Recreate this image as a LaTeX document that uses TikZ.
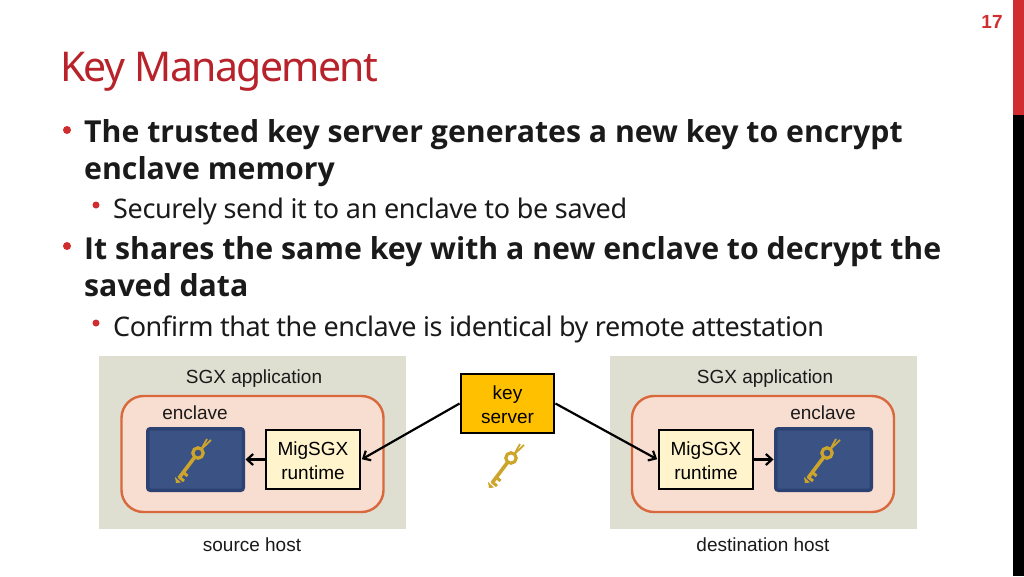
\documentclass[tikz,border=0pt]{standalone}
\usepackage{fontspec}
\setmainfont{Noto Sans}[LetterSpace=-1.35]
\newfontfamily\tightf{Noto Sans}[LetterSpace=-1.8]
\newfontfamily\headf{Open Sans}
\newfontfamily\titlef{Noto Sans}[LetterSpace=-4]
\newfontfamily\diag{Liberation Sans}
\usetikzlibrary{arrows.meta}
\definecolor{redt}{HTML}{B8222A}
\definecolor{barred}{HTML}{D12C2F}
\definecolor{panel}{HTML}{DEDED1}
\definecolor{pinkf}{HTML}{F8DDD1}
\definecolor{pinkb}{HTML}{D9693C}
\definecolor{bluef}{HTML}{3B5285}
\definecolor{blueb}{HTML}{2C4272}
\definecolor{cream}{HTML}{FFF4CC}
\definecolor{amber}{HTML}{FFC000}
\definecolor{gold}{HTML}{CDA52B}
\definecolor{bodyt}{HTML}{1A1A1A}
\newcommand{\dropline}{\rule{0pt}{15.8pt}}
\tikzset{
  x=1pt,y=-1pt,
  panelbox/.style={draw=none,fill=panel,minimum width=307pt,minimum height=173pt,inner sep=0pt},
  pinkbox/.style={draw=pinkb,line width=2.4pt,fill=pinkf,rounded corners=22pt,minimum width=262pt,minimum height=116pt,inner sep=0pt},
  bluebox/.style={draw=blueb,line width=3.5pt,fill=bluef,rounded corners=2.5pt,minimum width=95.5pt,minimum height=61.5pt,inner sep=0pt},
  runbox/.style={draw=black,line width=2.4pt,fill=cream,minimum width=94.5pt,minimum height=59.5pt,inner sep=0pt,align=center,font=\diag\fontsize{19}{23.5}\selectfont},
  srvbox/.style={draw=black,line width=2.4pt,fill=amber,minimum width=93.5pt,minimum height=59.5pt,inner sep=0pt,align=center,font=\diag\fontsize{19}{23.5}\selectfont},
  lab/.style={inner sep=0pt,font=\diag\fontsize{19}{22}\selectfont,text=bodyt},
  head/.style={anchor=base west,inner sep=0pt,font=\headf\fontsize{30.25}{36}\selectfont\bfseries,text=bodyt},
  sub/.style={anchor=base west,inner sep=0pt,font=\fontsize{27}{32}\selectfont,text=bodyt},
  arr/.style={draw=black,line width=2.2pt,-{Straight Barb[length=6pt,width=11pt,line width=2.2pt]},shorten >=0.5pt},
  pics/goldkey/.style={code={
    \draw[gold,line width=3.2pt] (0,0) circle[radius=5.2];
    \draw[gold,line width=3.6pt] (-3.5,4.5) -- (-19,25);
    \draw[gold,line width=3pt] (-15,19) -- (-10.5,23);
    \draw[gold,line width=3pt] (-19,24) -- (-14,28);
    \fill[gold] (-23,24) -- (-17,29.5) -- (-22,30) -- cycle;
    \draw[gold,line width=1.8pt] (3.5,-4) -- (13,-13);
    \draw[gold,line width=1.8pt] (4,-5) -- (9,-14);
  }}
}
\begin{document}
\begin{tikzpicture}
\useasboundingbox (0,0) rectangle (1024,576);
\fill[white] (0,0) rectangle (1024,576);
\fill[barred] (1013,0) rectangle (1024,115);
\fill[black] (1013,115) rectangle (1024,576);
\node[anchor=base,inner sep=0pt,text=barred,font=\diag\bfseries\fontsize{19}{22}\selectfont] (num) at (992,28) {17};
\node[anchor=base west,inner sep=0pt,text=redt,font=\titlef\fontsize{41}{48}\selectfont] (title) at (60,81) {Key Management};
\fill[barred] (67,130) circle[radius=4];
\node[head] (l1) at (84,142) {The trusted key server generates a new key to encrypt};
\node[head] (l2) at (84,179) {enclave memory};
\fill[barred] (96,205) circle[radius=3.5];
\node[sub] (l3) at (113,218) {Securely send it to an enclave to be saved};
\fill[barred] (67,246) circle[radius=4];
\node[head] (l4) at (84,259) {It shares the same key with a new enclave to decrypt the};
\node[head] (l5) at (84,296) {saved data};
\fill[barred] (96,323) circle[radius=3.5];
\node[sub] (l6) at (113,336) {\tightf Confirm that the enclave is identical by remote attestation};
% left
\node[panelbox] (pl) at (252.5,442.5) {};
\node[pinkbox] (el) at (252.5,454) {};
\node[bluebox] (bl) at (195.5,459.5) {};
\node[runbox] (rl) at (313,459.5) {\dropline MigSGX\\runtime};
\node[lab] (sl) at (254,379) {SGX application};
\node[lab] (nl) at (195,413) {enclave};
\node[lab] (hl) at (252,545) {source host};
% right
\node[panelbox] (pr) at (763.5,442.5) {};
\node[pinkbox] (er) at (763,454) {};
\node[bluebox] (br) at (823.5,459.5) {};
\node[runbox] (rr) at (706,459.5) {\dropline MigSGX\\runtime};
\node[lab] (sr) at (765,379) {SGX application};
\node[lab] (nr) at (823,413) {enclave};
\node[lab] (hr) at (763,545) {destination host};
% server
\node[srvbox] (srv) at (507.5,403.5) {\dropline key\\server};
\pic at (198,453) {goldkey};
\pic at (827,453) {goldkey};
\pic at (511,458) {goldkey};
\draw[arr] (srv.west) -- (rl.east);
\draw[arr] (srv.east) -- (rr.west);
\draw[arr] (rl.west) -- (bl.east);
\draw[arr] (rr.east) -- (br.west);
\end{tikzpicture}
\end{document}
